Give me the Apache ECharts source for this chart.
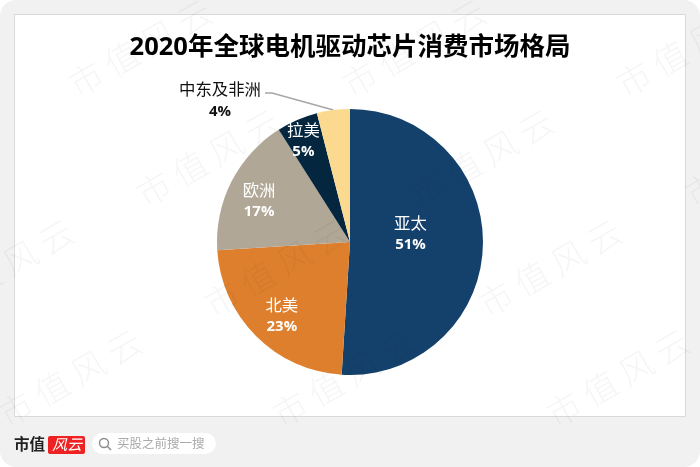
<!DOCTYPE html>
<html>
<head>
<meta charset="utf-8">
<style>
html, body { margin: 0; padding: 0; background: #fff; }
#chart { width: 700px; height: 467px; }
</style>
<script src="https://cdn.jsdelivr.net/npm/echarts@6/dist/echarts.min.js"></script>
</head>
<body>
<div id="chart"></div>
<script>
const regions = ['亚太', '北美', '欧洲', '拉美', '中东及非洲'];
const shares = [51, 23, 17, 5, 4];
const sliceColors = ['#14416b', '#de7f2e', '#b1a796', '#05263f', '#fbd98e'];
const labelOffsets = [[-9, -10], [-19, 25], [-29, -10], [-19, -37], [0, 0]];
const watermarkSpots = [[140, 48], [414, 48], [688, 48], [208, 158], [482, 158], [756, 158],
    [2, 268], [276, 268], [550, 268], [70, 378], [344, 378], [618, 378]];

const cjk = '"Noto Sans CJK SC", "Noto Sans", sans-serif';
const latin = '"Open Sans", "Noto Sans CJK SC", sans-serif';

let myChart = echarts.init(document.getElementById('chart'));

const frame = [
    {type: 'rect', z: -10, shape: {x: 0, y: 0, width: 700, height: 467, r: 16}, style: {fill: '#f1f1f1'}},
    {type: 'rect', z: -9, shape: {x: 14.5, y: 14.5, width: 671, height: 402}, style: {fill: '#fff', stroke: '#d9d9d9', lineWidth: 1}},
    // footer logo and search box
    {type: 'text', z: 5, x: 14, y: 436, style: {text: '市值', font: 'bold 15.5px "Noto Sans CJK SC"', fill: '#222'}},
    {type: 'rect', z: 5, shape: {x: 48, y: 436, width: 37, height: 18, r: 2}, style: {fill: '#ee2223'}},
    {type: 'text', z: 6, x: 52, y: 437, style: {text: '风云', font: 'italic 15px "Noto Sans CJK SC"', fill: '#fff'}},
    {type: 'rect', z: 5, shape: {x: 92, y: 433, width: 124, height: 21, r: 10.5}, style: {fill: '#fff'}},
    {type: 'circle', z: 6, shape: {cx: 104, cy: 443, r: 4.5}, style: {fill: 'none', stroke: '#8a8a8a', lineWidth: 1.4}},
    {type: 'line', z: 6, shape: {x1: 107.5, y1: 446.5, x2: 111, y2: 450}, style: {stroke: '#8a8a8a', lineWidth: 1.4}},
    {type: 'text', z: 6, x: 117, y: 437, style: {text: '买股之前搜一搜', font: '12.5px "Noto Sans CJK SC"', fill: '#aaa'}}
];

const watermarks = watermarkSpots.map(function (p) {
    return {
        type: 'text', z: 100, x: p[0], y: p[1], rotation: Math.PI * 30 / 180, silent: true,
        style: {
            text: '市 值 风 云', font: '300 34px "Noto Sans CJK SC"', fill: 'rgba(0,0,0,0.04)',
            align: 'center', verticalAlign: 'middle'
        }
    };
});

myChart.setOption({
    animation: false,
    title: {
        text: '2020年全球电机驱动芯片消费市场格局',
        left: 'center',
        top: 30,
        textStyle: {fontFamily: latin, fontSize: 25.5, fontWeight: 'bold', color: '#000'}
    },
    graphic: frame.concat(watermarks),
    series: [{
        type: 'pie',
        center: [350, 242],
        radius: [0, 133],
        startAngle: 90,
        clockwise: true,
        data: regions.map(function (name, i) {
            const outside = i === regions.length - 1;
            return {
                name: name,
                value: shares[i],
                itemStyle: {color: sliceColors[i]},
                label: {
                    position: outside ? 'outside' : 'inside',
                    offset: labelOffsets[i],
                    rich: {
                        n: {fontFamily: cjk, fontSize: 16.4, lineHeight: outside ? 23 : 22, color: outside ? '#111' : '#fff'},
                        v: {fontFamily: latin, fontSize: 15, fontWeight: 'bold', lineHeight: outside ? 23 : 22, color: outside ? '#111' : '#fff'}
                    }
                },
                labelLine: {show: outside}
            };
        }),
        label: {
            formatter: function (p) { return '{n|' + p.name + '}\n{v|' + p.value + '%}'; },
            align: 'center'
        },
        labelLine: {show: false, lineStyle: {color: '#a6a6a6', width: 1.5}},
        labelLayout: function (params) {
            if (params.dataIndex !== regions.length - 1) return {};
            const start = params.labelLinePoints[0];
            return {
                x: 220, y: 100, align: 'center', verticalAlign: 'middle',
                labelLinePoints: [start, [272, 93], [265, 93]]
            };
        }
    }]
});
</script>
</body>
</html>
